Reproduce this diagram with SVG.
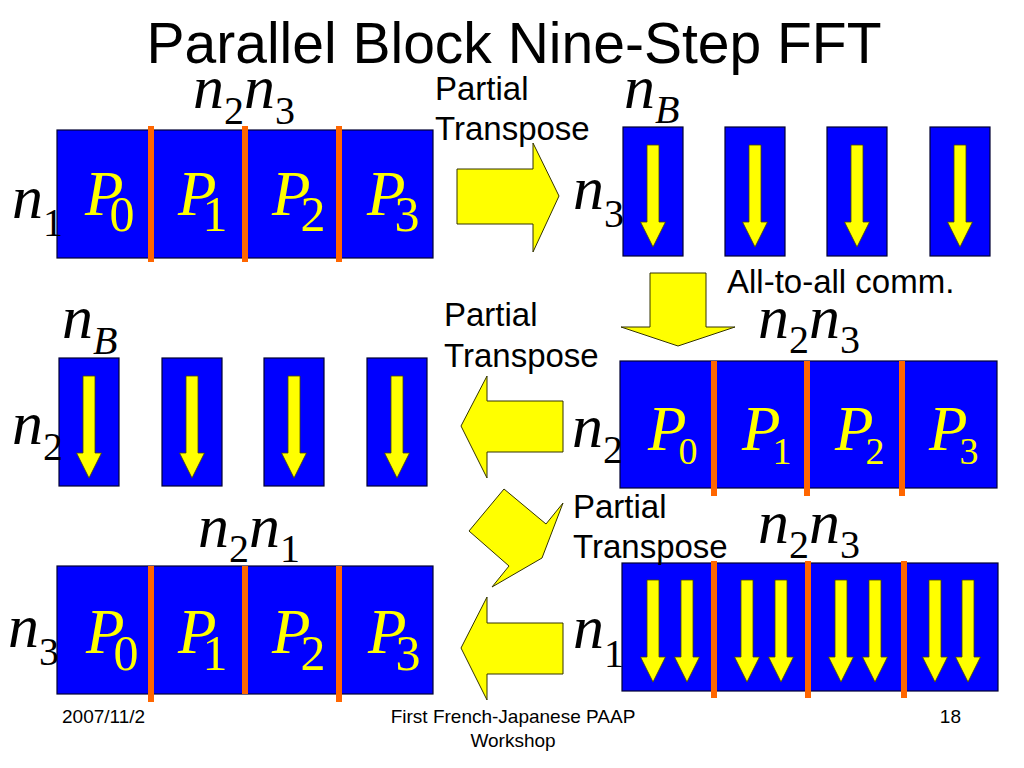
<svg xmlns="http://www.w3.org/2000/svg" xmlns:xlink="http://www.w3.org/1999/xlink" width="1024" height="768" viewBox="0 0 1024 768">
<style>
.bg{fill:#fff}
.blk{fill:#0000FF;stroke:#000033;stroke-width:1.2}
.dv{fill:#FF6600}
.ya{fill:#FFFF00;stroke:#333300;stroke-width:1}
.sa{fill:#FFFF00;stroke:#444400;stroke-width:0.8}
.m{font-family:"Liberation Serif","Times New Roman",serif;font-style:italic;font-size:62px;fill:#000}
.s{font-style:normal;font-size:40px}
.sb{font-size:40px}
.p{font-family:"Liberation Serif","Times New Roman",serif;font-style:italic;font-size:63px;fill:#FFFF00}
.ps{font-style:normal;font-size:50px}
.ps2{font-style:normal;font-size:38px}
.lbl{font-family:"Liberation Sans",Arial,sans-serif;font-size:33px;fill:#000}
.title{font-family:"Liberation Sans",Arial,sans-serif;font-size:57px;fill:#000;text-anchor:middle}
.foot{font-family:"Liberation Sans",Arial,sans-serif;font-size:19px;fill:#000}
</style>
<defs>
<path id="da" class="sa" d="M-6,0 H6 V77 H12.5 L0,102 L-12.5,77 H-6 Z"/>
</defs>
<rect class="bg" x="0" y="0" width="1024" height="768"/>
<text class="title" x="514" y="63">Parallel Block Nine-Step FFT</text>

<g id="block-top-left">
<rect class="blk" x="57" y="130" width="376" height="128"/>
<rect class="dv" x="148" y="126" width="6" height="136"/>
<rect class="dv" x="242" y="126" width="6" height="136"/>
<rect class="dv" x="336" y="126" width="6" height="136"/>
<text class="p" x="85" y="215">P<tspan class="ps" dx="-14" dy="16">0</tspan></text>
<text class="p" x="178" y="215">P<tspan class="ps" dx="-14" dy="16">1</tspan></text>
<text class="p" x="272" y="215">P<tspan class="ps" dx="-10" dy="16">2</tspan></text>
<text class="p" x="367" y="215">P<tspan class="ps" dx="-11" dy="16">3</tspan></text>
<text class="m" x="193" y="108">n<tspan class="s" dy="16">2</tspan><tspan dy="-16">n</tspan><tspan class="s" dy="16">3</tspan></text>
<text class="m" x="12" y="218">n<tspan class="s" dy="18">1</tspan></text>
</g>

<g id="columns-top-right">
<rect class="blk" x="623" y="127" width="60" height="129"/>
<rect class="blk" x="725" y="127" width="60" height="129"/>
<rect class="blk" x="827" y="127" width="60" height="129"/>
<rect class="blk" x="930" y="127" width="60" height="129"/>
<use xlink:href="#da" x="653" y="145"/>
<use xlink:href="#da" x="755" y="145"/>
<use xlink:href="#da" x="857" y="145"/>
<use xlink:href="#da" x="960" y="145"/>
<text class="m" x="624" y="108">n<tspan class="sb" dy="15">B</tspan></text>
<text class="m" x="573" y="209">n<tspan class="s" dy="18">3</tspan></text>
</g>

<g id="block-mid-right">
<rect class="blk" x="620" y="361" width="377" height="127"/>
<rect class="dv" x="711" y="361" width="6" height="135"/>
<rect class="dv" x="804" y="361" width="6" height="135"/>
<rect class="dv" x="899" y="361" width="6" height="135"/>
<text class="p" x="648" y="450">P<tspan class="ps2" dx="-8" dy="14">0</tspan></text>
<text class="p" x="742" y="450">P<tspan class="ps2" dx="-8" dy="14">1</tspan></text>
<text class="p" x="835" y="450">P<tspan class="ps2" dx="-8" dy="14">2</tspan></text>
<text class="p" x="929" y="450">P<tspan class="ps2" dx="-8" dy="14">3</tspan></text>
<text class="m" x="758" y="338">n<tspan class="s" dy="15">2</tspan><tspan dy="-15">n</tspan><tspan class="s" dy="15">3</tspan></text>
<text class="m" x="572" y="447">n<tspan class="s" dy="16">2</tspan></text>
</g>

<g id="columns-mid-left">
<rect class="blk" x="59" y="358" width="60" height="128"/>
<rect class="blk" x="162" y="358" width="60" height="128"/>
<rect class="blk" x="264" y="358" width="60" height="128"/>
<rect class="blk" x="367" y="358" width="60" height="128"/>
<use xlink:href="#da" x="89" y="376"/>
<use xlink:href="#da" x="192" y="376"/>
<use xlink:href="#da" x="294" y="376"/>
<use xlink:href="#da" x="397" y="376"/>
<text class="m" x="62" y="338">n<tspan class="sb" dy="16">B</tspan></text>
<text class="m" x="12" y="444">n<tspan class="s" dy="16">2</tspan></text>
</g>

<g id="block-bottom-right">
<rect class="blk" x="622" y="563" width="376" height="128"/>
<rect class="dv" x="711" y="561" width="6" height="137"/>
<rect class="dv" x="805" y="561" width="6" height="137"/>
<rect class="dv" x="901" y="561" width="6" height="137"/>
<use xlink:href="#da" x="653" y="580"/>
<use xlink:href="#da" x="687" y="580"/>
<use xlink:href="#da" x="747" y="580"/>
<use xlink:href="#da" x="781" y="580"/>
<use xlink:href="#da" x="841" y="580"/>
<use xlink:href="#da" x="875" y="580"/>
<use xlink:href="#da" x="935" y="580"/>
<use xlink:href="#da" x="968" y="580"/>
<text class="m" x="758" y="543">n<tspan class="s" dy="15">2</tspan><tspan dy="-15">n</tspan><tspan class="s" dy="15">3</tspan></text>
<text class="m" x="573" y="648">n<tspan class="s" dy="19">1</tspan></text>
</g>

<g id="block-bottom-left">
<rect class="blk" x="57" y="566" width="376" height="128"/>
<rect class="dv" x="148" y="566" width="6" height="136"/>
<rect class="dv" x="242" y="566" width="6" height="128"/>
<rect class="dv" x="336" y="566" width="6" height="136"/>
<text class="p" x="86" y="653">P<tspan class="ps" dx="-11" dy="17">0</tspan></text>
<text class="p" x="178" y="653">P<tspan class="ps" dx="-14" dy="17">1</tspan></text>
<text class="p" x="272" y="653">P<tspan class="ps" dx="-10" dy="17">2</tspan></text>
<text class="p" x="368" y="653">P<tspan class="ps" dx="-11" dy="17">3</tspan></text>
<text class="m" x="198" y="547">n<tspan class="s" dy="15">2</tspan><tspan dy="-15">n</tspan><tspan class="s" dy="15">1</tspan></text>
<text class="m" x="8" y="647">n<tspan class="s" dy="18">3</tspan></text>
</g>

<g id="connectors">
<polygon class="ya" points="457,169 533,169 533,143 559,196 533,252 533,224 457,224"/>
<polygon class="ya" points="650,273 706,273 706,327 735,327 678,346 621,327 650,327"/>
<polygon class="ya" points="563,401 487,401 487,376 461,426 487,478 487,452 563,452"/>
<polygon class="ya" points="504,489 546,524 563,503 542,558 492,587 509,566 469,531"/>
<polygon class="ya" points="563,623 487,623 487,597 461,648 487,700 487,674 563,674"/>
<text class="lbl" x="435" y="100">Partial</text>
<text class="lbl" x="435" y="140">Transpose</text>
<text class="lbl" x="727" y="293">All-to-all comm.</text>
<text class="lbl" x="444" y="326">Partial</text>
<text class="lbl" x="444" y="367">Transpose</text>
<text class="lbl" x="573" y="518">Partial</text>
<text class="lbl" x="573" y="558">Transpose</text>
</g>

<text class="foot" x="62" y="723">2007/11/2</text>
<text class="foot" x="513" y="723" text-anchor="middle">First French-Japanese PAAP</text>
<text class="foot" x="513" y="747" text-anchor="middle">Workshop</text>
<text class="foot" x="961" y="723" text-anchor="end">18</text>
</svg>
